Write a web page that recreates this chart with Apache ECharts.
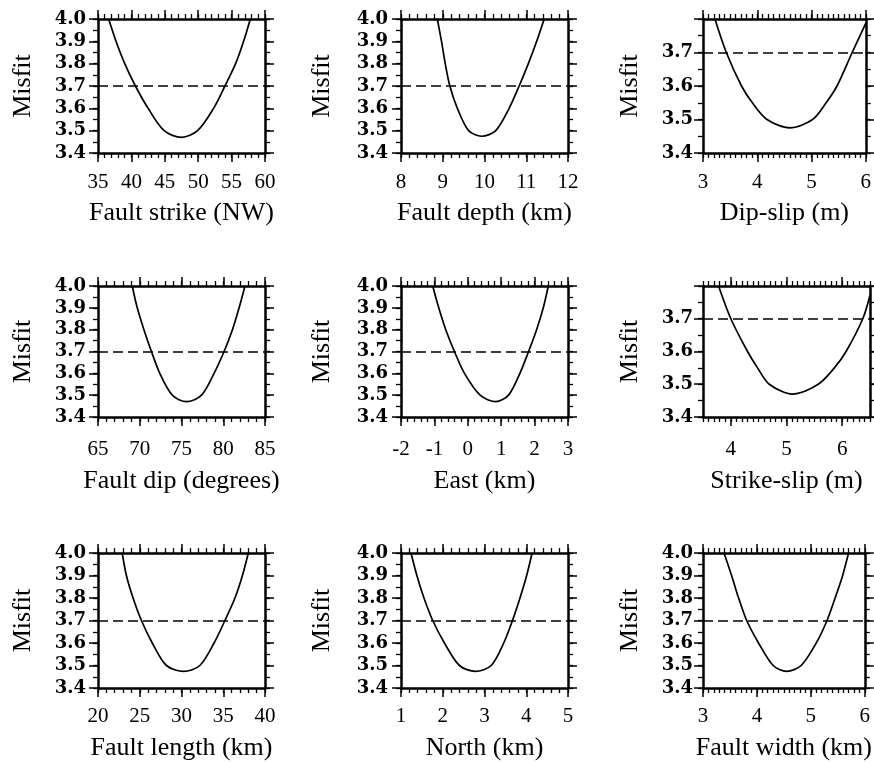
<!DOCTYPE html>
<html><head><meta charset="utf-8">
<script src="https://cdn.jsdelivr.net/npm/echarts@6/dist/echarts.min.js"></script>
<style>html,body{margin:0;padding:0;background:#fff}#c{width:874px;height:762px}</style>
</head><body><div id="c"></div>
<script>
// ---- data ----
const titles = ['Fault strike (NW)','Fault depth (km)','Dip-slip (m)','Fault dip (degrees)','East (km)','Strike-slip (m)','Fault length (km)','North (km)','Fault width (km)'];
const yName = 'Misfit';
const threshold = 3.7;

const strikeTicks = [35,40,45,50,55,60];
const depthTicks = [8,9,10,11,12];
const dipSlipTicks = [3,4,5,6];
const dipTicks = [65,70,75,80,85];
const eastTicks = [-2,-1,0,1,2,3];
const strikeSlipTicks = [4,5,6];
const lengthTicks = [20,25,30,35,40];
const northTicks = [1,2,3,4,5];
const widthTicks = [3,4,5,6];

const yTicksFull = [3.4,3.5,3.6,3.7,3.8,3.9,4.0];
const yLabelsFull = [3.4,3.5,3.6,3.7,3.8,3.9,4.0];
const yTicksShort = [3.4,3.5,3.6,3.7,3.8];
const yLabelsShort = [3.4,3.5,3.6,3.7];

const xMins = [35, 8, 3, 65, -2, 3.5, 20, 1, 3];
const xMaxs = [60, 12, 6, 85, 3, 6.5, 40, 5, 6];
const xMinorSteps = [1, 0.2, 0.1, 1, 0.2, 0.1, 1, 0.2, 0.1];
const yMaxs = [4.0, 4.0, 3.8, 4.0, 4.0, 3.8, 4.0, 4.0, 4.0];

const strikeX = [36.6, 37.7, 39.0, 40.6, 42.5, 44.9, 47.5, 49.9, 52.3, 54.0, 55.6, 56.8, 57.8];
const strikeY = [4.0, 3.9, 3.8, 3.7, 3.6, 3.5, 3.47, 3.5, 3.6, 3.7, 3.8, 3.9, 4.0];
const depthX = [8.87, 8.97, 9.06, 9.17, 9.35, 9.62, 9.93, 10.27, 10.59, 10.83, 11.05, 11.25, 11.43];
const depthY = [4.0, 3.9, 3.8, 3.7, 3.6, 3.5, 3.475, 3.5, 3.6, 3.7, 3.8, 3.9, 4.0];
const dipSlipX = [3.22, 3.43, 3.71, 3.91, 4.18, 4.60, 5.02, 5.27, 5.47, 5.75, 6.0];
const dipSlipY = [3.8, 3.7, 3.6, 3.55, 3.5, 3.475, 3.5, 3.55, 3.6, 3.7, 3.787];
const dipX = [69.1, 69.7, 70.5, 71.4, 72.4, 73.9, 75.6, 77.4, 78.9, 80.1, 81.1, 81.9, 82.6];
const dipY = [4.0, 3.9, 3.8, 3.7, 3.6, 3.5, 3.47, 3.5, 3.6, 3.7, 3.8, 3.9, 4.0];
const eastX = [-1.05, -0.87, -0.66, -0.40, -0.10, 0.37, 0.84, 1.22, 1.56, 1.82, 2.06, 2.26, 2.41];
const eastY = [4.0, 3.9, 3.8, 3.7, 3.6, 3.5, 3.47, 3.5, 3.6, 3.7, 3.8, 3.9, 4.0];
const strikeSlipX = [3.78, 4.0, 4.30, 4.48, 4.69, 5.11, 5.57, 5.86, 6.07, 6.37, 6.5];
const strikeSlipY = [3.8, 3.7, 3.6, 3.55, 3.5, 3.47, 3.5, 3.55, 3.6, 3.7, 3.772];
const lengthX = [22.9, 23.4, 24.2, 25.2, 26.5, 28.2, 30.26, 32.2, 33.9, 35.2, 36.4, 37.3, 38.0];
const lengthY = [4.0, 3.9, 3.8, 3.7, 3.6, 3.5, 3.474, 3.5, 3.6, 3.7, 3.8, 3.9, 4.0];
const northX = [1.24, 1.38, 1.55, 1.76, 2.04, 2.40, 2.78, 3.16, 3.46, 3.67, 3.85, 4.01, 4.14];
const northY = [4.0, 3.9, 3.8, 3.7, 3.6, 3.5, 3.474, 3.5, 3.6, 3.7, 3.8, 3.9, 4.0];
const widthX = [3.39, 3.53, 3.66, 3.81, 4.03, 4.30, 4.55, 4.82, 5.10, 5.30, 5.45, 5.59, 5.70];
const widthY = [4.0, 3.9, 3.8, 3.7, 3.6, 3.5, 3.474, 3.5, 3.6, 3.7, 3.8, 3.9, 4.0];

// ---- build ----
const xTickSets = [strikeTicks, depthTicks, dipSlipTicks, dipTicks, eastTicks, strikeSlipTicks, lengthTicks, northTicks, widthTicks];
const xsSets = [strikeX, depthX, dipSlipX, dipX, eastX, strikeSlipX, lengthX, northX, widthX];
const ysSets = [strikeY, depthY, dipSlipY, dipY, eastY, strikeSlipY, lengthY, northY, widthY];

const colLeft = [98, 401, 703];
const colW = 167;
const rowTop = [19, 286, 553];
const rowH = [134, 131, 135];
const rowLabelMargin = [19, 22, 18];
const rowNameGap = [47, 51, 47];
const colYNameGap = [62, 66, 60];
const colYLabelMargin = [12, 13, 10];

const grids = [], xAxes = [], yAxes = [], series = [];
const serif = 'Liberation Serif';
const black = '#000';

for (let i = 0; i < 9; i++) {
  const r = Math.floor(i / 3), c = i % 3;
  grids.push({left: colLeft[c], top: rowTop[r], width: colW, height: rowH[r], containLabel: false});
  const short = yMaxs[i] < 4.0;
  const yTicks = short ? yTicksShort : yTicksFull;
  const yLabels = short ? yLabelsShort : yLabelsFull;
  ['bottom', 'top'].forEach(pos => {
    xAxes.push({
      gridIndex: i, type: 'value', position: pos, min: xMins[i], max: xMaxs[i], interval: xMinorSteps[i],
      splitLine: {show: false},
      axisLine: {show: true, onZero: false, lineStyle: {color: black, width: 2.5}},
      axisTick: {show: true, length: 9, customValues: xTickSets[i], lineStyle: {color: black, width: 1.5}},
      axisLabel: pos === 'bottom' ? {show: true, customValues: xTickSets[i], margin: rowLabelMargin[r],
        fontFamily: serif, fontSize: 21, color: black} : {show: false},
      name: pos === 'bottom' ? titles[i] : '', nameLocation: 'middle', nameGap: rowNameGap[r],
      nameTextStyle: {fontFamily: serif, fontSize: 26, color: black}
    });
    xAxes.push({
      gridIndex: i, type: 'value', position: pos, min: xMins[i], max: xMaxs[i], interval: xMinorSteps[i],
      splitLine: {show: false},
      axisLine: {show: false, onZero: false},
      axisTick: {show: true, length: 5, lineStyle: {color: black, width: 1.3}},
      axisLabel: {show: false}
    });
  });
  ['left', 'right'].forEach(pos => {
    yAxes.push({
      gridIndex: i, type: 'value', position: pos, min: 3.4, max: yMaxs[i], interval: 0.05,
      splitLine: {show: false},
      axisLine: {show: true, onZero: false, lineStyle: {color: black, width: 2.5}},
      axisTick: {show: true, length: 9, customValues: yTicks, lineStyle: {color: black, width: 1.5}},
      axisLabel: pos === 'left' ? {show: true, customValues: yLabels, margin: colYLabelMargin[c],
        formatter: v => Number(v).toFixed(1),
        fontFamily: 'DejaVu Serif', fontWeight: 'bold', fontSize: 18, color: black} : {show: false},
      name: pos === 'left' ? yName : '', nameLocation: 'middle', nameGap: colYNameGap[c],
      nameTextStyle: {fontFamily: serif, fontSize: 26, color: black}
    });
    yAxes.push({
      gridIndex: i, type: 'value', position: pos, min: 3.4, max: yMaxs[i], interval: 0.05,
      splitLine: {show: false},
      axisLine: {show: false, onZero: false},
      axisTick: {show: true, length: 5, lineStyle: {color: black, width: 1.3}},
      axisLabel: {show: false}
    });
  });
  series.push({
    type: 'line', xAxisIndex: 4 * i, yAxisIndex: 4 * i,
    data: xsSets[i].map((x, k) => [x, ysSets[i][k]]),
    smooth: 0.3, symbol: 'none', clip: true, silent: true,
    lineStyle: {color: black, width: 1.7},
    markLine: {silent: true, symbol: 'none', label: {show: false}, animation: false,
      lineStyle: {color: black, width: 1.7, type: [10, 5]},
      data: [{yAxis: threshold}]}
  });
}

const chart = echarts.init(document.getElementById('c'), null, {renderer: 'canvas'});
chart.setOption({
  animation: false,
  backgroundColor: '#fff',
  grid: grids, xAxis: xAxes, yAxis: yAxes, series: series
});
</script>
</body></html>
